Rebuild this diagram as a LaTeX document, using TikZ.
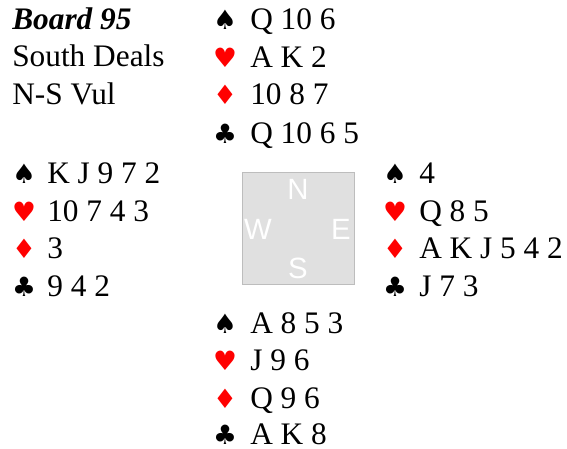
\documentclass[tikz,border=0pt]{standalone}
\usepackage{fontspec}
\setmainfont{Liberation Serif}
\newfontfamily\suitfont{DejaVu Sans}
\newfontfamily\compassfont{Liberation Sans}
\usepackage{tikz}
\usepackage{xcolor}
\definecolor{suitred}{HTML}{FF0000}
\definecolor{tablegray}{HTML}{E0E0E0}
\definecolor{tableedge}{HTML}{BDBDBD}

\begin{document}
\begin{tikzpicture}[
    x=0.75pt, y=-0.75pt,
    cards/.style={anchor=base west, inner sep=0pt, font=\fontsize{23.5}{28}\selectfont},
    info/.style={anchor=base west, inner sep=0pt, font=\fontsize{23.5}{28}\selectfont},
    blacksuit/.style={anchor=base, inner sep=0pt, font=\suitfont\fontsize{20}{22}\selectfont},
    redsuit/.style={blacksuit, text=suitred},
    table/.style={rectangle, draw=tableedge, fill=tablegray, line width=0.8pt, minimum width=84pt, minimum height=84pt, inner sep=0pt},
    compass/.style={text=white, inner sep=0pt, font=\compassfont\fontsize{22}{24}\selectfont}
]
    \useasboundingbox (0,0) rectangle (567,449);

    % Board information
    \node[info, font=\fontsize{23.5}{28}\selectfont\bfseries\itshape] (board) at (12,30) {Board 95};
    \node[info] (dealer) at (12,67) {South Deals};
    \node[info] (vul) at (12,105) {N-S Vul};

    % North hand
    \node[blacksuit] (nS) at (225,30) {♠};
    \node[cards] (nSc) at (250,30) {Q 10 6};
    \node[redsuit] (nH) at (225,68) {♥};
    \node[cards] (nHc) at (250,68) {A K 2};
    \node[redsuit] (nD) at (225,105) {♦};
    \node[cards] (nDc) at (250,105) {10 8 7};
    \node[blacksuit] (nC) at (225,143) {♣};
    \node[cards] (nCc) at (250,143) {Q 10 6 5};

    % West hand
    \node[blacksuit] (wS) at (24,183) {♠};
    \node[cards] (wSc) at (47,183) {K J 9 7 2};
    \node[redsuit] (wH) at (24,221) {♥};
    \node[cards] (wHc) at (47,221) {10 7 4 3};
    \node[redsuit] (wD) at (24,258) {♦};
    \node[cards] (wDc) at (47,258) {3};
    \node[blacksuit] (wC) at (24,296) {♣};
    \node[cards] (wCc) at (47,296) {9 4 2};

    % East hand
    \node[blacksuit] (eS) at (395,183) {♠};
    \node[cards] (eSc) at (419,183) {4};
    \node[redsuit] (eH) at (395,221) {♥};
    \node[cards] (eHc) at (419,221) {Q 8 5};
    \node[redsuit] (eD) at (395,258) {♦};
    \node[cards] (eDc) at (419,258) {A K J 5 4 2};
    \node[blacksuit] (eC) at (395,296) {♣};
    \node[cards] (eCc) at (419,296) {J 7 3};

    % South hand
    \node[blacksuit] (sS) at (225,333) {♠};
    \node[cards] (sSc) at (250,333) {A 8 5 3};
    \node[redsuit] (sH) at (225,370) {♥};
    \node[cards] (sHc) at (250,370) {J 9 6};
    \node[redsuit] (sD) at (225,408) {♦};
    \node[cards] (sDc) at (250,408) {Q 9 6};
    \node[blacksuit] (sC) at (225,444) {♣};
    \node[cards] (sCc) at (250,444) {A K 8};

    % Table with compass
    \node[table] (tbl) at (298.5,228.5) {};
    \node[compass] (north) at (298,189) {N};
    \node[compass] (west) at (258,229) {W};
    \node[compass] (east) at (341,229) {E};
    \node[compass] (south) at (298,268) {S};
\end{tikzpicture}
\end{document}
